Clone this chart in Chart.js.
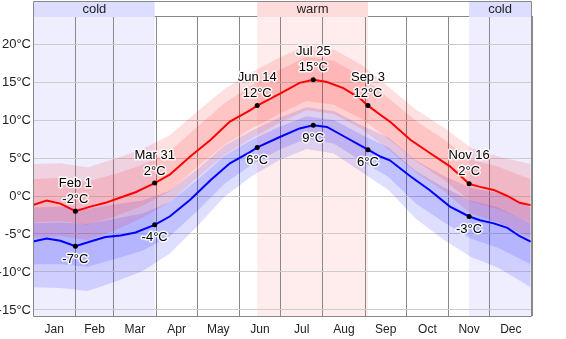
<!DOCTYPE html>
<html>
<head>
<meta charset="utf-8">
<script src="https://cdn.jsdelivr.net/npm/chart.js@4"></script>
<style>
  html, body { margin: 0; padding: 0; background: #fff; }
  #wrap { width: 566px; height: 339px; }
</style>
</head>
<body>
<div id="wrap"><canvas id="tempChart"></canvas></div>
<script>
// day of year (0 = Jan 1) for the average lines
const lineDays = [0, 10, 20, 31, 42, 53, 64, 75, 89, 100, 115, 130, 144, 159, 164, 181, 195, 205,
                  215, 227, 239, 245, 254, 261, 276, 290, 305, 319, 327, 337, 347, 356, 364];
const avgHigh = [-1.2, -0.6, -1.0, -2.0, -1.4, -0.9, -0.2, 0.5, 1.7, 2.8, 5.2, 7.4, 9.8, 11.3, 11.9, 13.5, 14.9, 15.3,
                 15.0, 14.2, 12.9, 11.9, 10.7, 9.8, 7.4, 5.7, 3.9, 1.6, 1.2, 0.8, 0.0, -0.9, -1.2];
const avgLow = [-6.0, -5.6, -5.9, -6.6, -6.0, -5.4, -5.2, -4.8, -3.8, -2.7, -0.5, 2.1, 4.3, 5.8, 6.4, 7.8, 8.9, 9.3,
                9.1, 7.9, 6.7, 6.1, 5.2, 4.7, 2.6, 0.8, -1.4, -2.7, -3.2, -3.6, -4.2, -5.3, -6.0];

// percentile bands
const bandDays = [0, 20, 40, 60, 80, 100, 120, 140, 160, 180, 200, 220, 240, 260, 280, 300, 320, 340, 364];
const highP90 = [4.2, 4.3, 3.8, 4.9, 6.2, 8.0, 11.1, 14.1, 16.3, 18.2, 19.8, 19.3, 17.3, 14.4, 11.4, 9.1, 6.4, 5.2, 4.2];
const highP75 = [2.2, 2.4, 1.9, 2.9, 4.1, 5.9, 9.1, 12.2, 14.6, 16.6, 18.3, 17.8, 15.8, 12.9, 9.9, 7.5, 4.8, 3.9, 2.2];
const highP25 = [-3.5, -3.3, -3.8, -2.7, -1.3, 0.6, 3.8, 6.7, 8.9, 10.8, 12.5, 12.0, 10.2, 7.5, 4.6, 2.2, -0.7, -1.7, -3.5];
const highP10 = [-5.5, -5.3, -5.8, -4.5, -2.9, -0.8, 2.4, 5.4, 7.6, 9.6, 11.3, 10.8, 8.9, 6.1, 3.1, 0.7, -2.3, -3.5, -5.5];
const lowP90 = [-1.5, -1.4, -1.7, -1.1, -0.6, 0.7, 3.5, 6.6, 8.6, 10.3, 11.7, 11.2, 9.3, 7.7, 4.7, 2.7, 1.1, 0.4, -1.5];
const lowP75 = [-3.6, -3.5, -3.7, -3.0, -2.3, -0.8, 2.1, 5.3, 7.4, 9.1, 10.5, 10.0, 8.1, 6.4, 3.3, 1.2, -0.6, -1.5, -3.6];
const lowP25 = [-9.0, -9.0, -9.3, -8.3, -7.2, -5.3, -2.0, 1.6, 4.1, 6.1, 7.5, 6.9, 4.6, 2.5, -1.0, -3.4, -5.6, -6.8, -9.0];
const lowP10 = [-12.0, -12.1, -12.5, -11.3, -9.9, -7.6, -4.0, -0.1, 2.6, 4.7, 6.2, 5.6, 3.2, 0.8, -3.0, -5.7, -8.0, -9.4, -12.0];

// labelled days
const markerDays = [31, 89, 164, 205, 245, 319];
const markerNames = ['Feb 1', 'Mar 31', 'Jun 14', 'Jul 25', 'Sep 3', 'Nov 16'];
const markerHigh = [-2.0, 1.7, 11.9, 15.3, 11.9, 1.6];
const markerLow = [-6.6, -3.8, 6.4, 9.3, 6.1, -2.7];

// seasons shown in the top strip
const seasonStart = [0, 164, 319];
const seasonEnd = [89, 245, 365];
const seasonNames = ['cold', 'warm', 'cold'];

const monthStarts = [0, 31, 59, 90, 120, 151, 181, 212, 243, 273, 304, 334, 365];
const monthNames = ['Jan', 'Feb', 'Mar', 'Apr', 'May', 'Jun', 'Jul', 'Aug', 'Sep', 'Oct', 'Nov', 'Dec'];
const yTicks = [-15, -10, -5, 0, 5, 10, 15, 20];

const monthMids = monthNames.map((m, i) => (monthStarts[i] + monthStarts[i + 1]) / 2);
const FONT = '"Liberation Sans", Arial, sans-serif';

function pts(days, vals) {
    return days.map((d, i) => ({ x: d, y: vals[i] }));
}

function band(vals, color, fill) {
    return {
        data: pts(bandDays, vals),
        borderWidth: 0,
        pointRadius: 0,
        backgroundColor: color,
        fill: fill ? '+1' : false,
        order: 3
    };
}

const seasonPlugin = {
    id: 'seasons',
    beforeDraw(chart) {
        const { ctx, chartArea, scales } = chart;
        ctx.save();
        ctx.fillStyle = '#fff';
        ctx.fillRect(chartArea.left, chartArea.top, chartArea.width, chartArea.height);
        seasonNames.forEach((name, i) => {
            const x1 = scales.x.getPixelForValue(seasonStart[i]);
            const x2 = scales.x.getPixelForValue(seasonEnd[i]);
            ctx.fillStyle = name === 'cold' ? '#eeeeff' : '#ffeded';
            ctx.fillRect(x1, chartArea.top, x2 - x1, chartArea.height);
        });
        ctx.restore();
    },
    afterDatasetsDraw(chart) {
        const { ctx, chartArea, scales } = chart;
        const top = chartArea.top - 15;
        ctx.save();
        // frame
        ctx.strokeStyle = '#888';
        ctx.lineWidth = 1;
        ctx.beginPath();
        ctx.moveTo(chartArea.left + 0.5, top + 0.5);
        ctx.lineTo(chartArea.right - 0.5, top + 0.5);
        ctx.lineTo(chartArea.right - 0.5, chartArea.bottom + 0.5);
        ctx.lineTo(chartArea.left + 0.5, chartArea.bottom + 0.5);
        ctx.closePath();
        ctx.moveTo(chartArea.left, chartArea.top + 0.5);
        ctx.lineTo(chartArea.right, chartArea.top + 0.5);
        ctx.stroke();
        // season strip
        ctx.font = '13px ' + FONT;
        ctx.textAlign = 'center';
        ctx.textBaseline = 'middle';
        seasonNames.forEach((name, i) => {
            const x1 = Math.max(scales.x.getPixelForValue(seasonStart[i]), chartArea.left + 1);
            const x2 = Math.min(scales.x.getPixelForValue(seasonEnd[i]), chartArea.right - 1);
            ctx.fillStyle = name === 'cold' ? '#ddddff' : '#ffdcdc';
            ctx.fillRect(x1, top + 1, x2 - x1, chartArea.top - top);
            ctx.fillStyle = '#222';
            ctx.fillText(name, (x1 + x2) / 2, top + 8);
        });

        // point labels
        const hi = chart.getDatasetMeta(chart.data.datasets.length - 2).data;
        const lo = chart.getDatasetMeta(chart.data.datasets.length - 1).data;
        ctx.lineWidth = 3;
        ctx.lineJoin = 'round';
        ctx.strokeStyle = 'rgba(255,255,255,0.85)';
        const label = (text, x, y) => {
            ctx.strokeText(text, x, y);
            ctx.fillStyle = '#000';
            ctx.fillText(text, x, y);
        };
        markerDays.forEach((d, i) => {
            label(markerNames[i], hi[i].x, hi[i].y - 28);
            label(Math.round(markerHigh[i]) + '°C', hi[i].x, hi[i].y - 12);
            label(Math.round(markerLow[i]) + '°C', lo[i].x, lo[i].y + 13);
        });
        ctx.restore();
    }
};

Chart.defaults.font.family = FONT;
Chart.defaults.font.size = 12;
Chart.defaults.color = '#222';

new Chart(document.getElementById('tempChart'), {
    type: 'line',
    data: {
        datasets: [
            band(highP90, 'rgba(255, 0, 0, 0.12)', true),
            band(highP10, 'transparent', false),
            band(highP75, 'rgba(255, 0, 0, 0.12)', true),
            band(highP25, 'transparent', false),
            band(lowP90, 'rgba(0, 0, 255, 0.13)', true),
            band(lowP10, 'transparent', false),
            band(lowP75, 'rgba(0, 0, 255, 0.13)', true),
            band(lowP25, 'transparent', false),
            {
                data: pts(lineDays, avgHigh),
                borderColor: '#ff0000',
                borderWidth: 2,
                pointRadius: 0,
                fill: false,
                order: 2
            },
            {
                data: pts(lineDays, avgLow),
                borderColor: '#0000ff',
                borderWidth: 2,
                pointRadius: 0,
                fill: false,
                order: 2
            },
            {
                data: pts(markerDays, markerHigh),
                showLine: false,
                pointRadius: 2.5,
                pointBackgroundColor: '#000',
                pointBorderWidth: 0,
                order: 1
            },
            {
                data: pts(markerDays, markerLow),
                showLine: false,
                pointRadius: 2.5,
                pointBackgroundColor: '#000',
                pointBorderWidth: 0,
                order: 1
            }
        ]
    },
    options: {
        responsive: true,
        maintainAspectRatio: false,
        animation: false,
        layout: { padding: { top: 16, right: 34, left: 0, bottom: 0 } },
        plugins: {
            legend: { display: false },
            tooltip: { enabled: false }
        },
        scales: {
            x: {
                type: 'linear',
                min: 0,
                max: 365,
                afterBuildTicks: sc => {
                    sc.ticks = monthStarts.concat(monthMids).sort((a, b) => a - b).map(v => ({ value: v }));
                },
                afterFit: sc => { sc.height = 23; },
                grid: {
                    color: c => (c.tick && monthStarts.includes(c.tick.value)) ? '#888' : 'rgba(0,0,0,0)',
                    drawTicks: false
                },
                border: { display: false },
                ticks: {
                    autoSkip: false,
                    maxRotation: 0,
                    padding: 6,
                    callback: v => {
                        const i = monthMids.indexOf(v);
                        return i >= 0 ? monthNames[i] : '';
                    }
                }
            },
            y: {
                min: -15.8,
                max: 23.7,
                afterBuildTicks: sc => {
                    sc.ticks = yTicks.map(v => ({ value: v }));
                },
                afterFit: sc => { sc.width = 33; },
                grid: { color: '#ccc', drawTicks: false },
                border: { display: false },
                ticks: {
                    padding: 2,
                    font: { size: 13 },
                    callback: v => v + '°C'
                }
            }
        }
    },
    plugins: [seasonPlugin]
});
</script>
</body>
</html>
